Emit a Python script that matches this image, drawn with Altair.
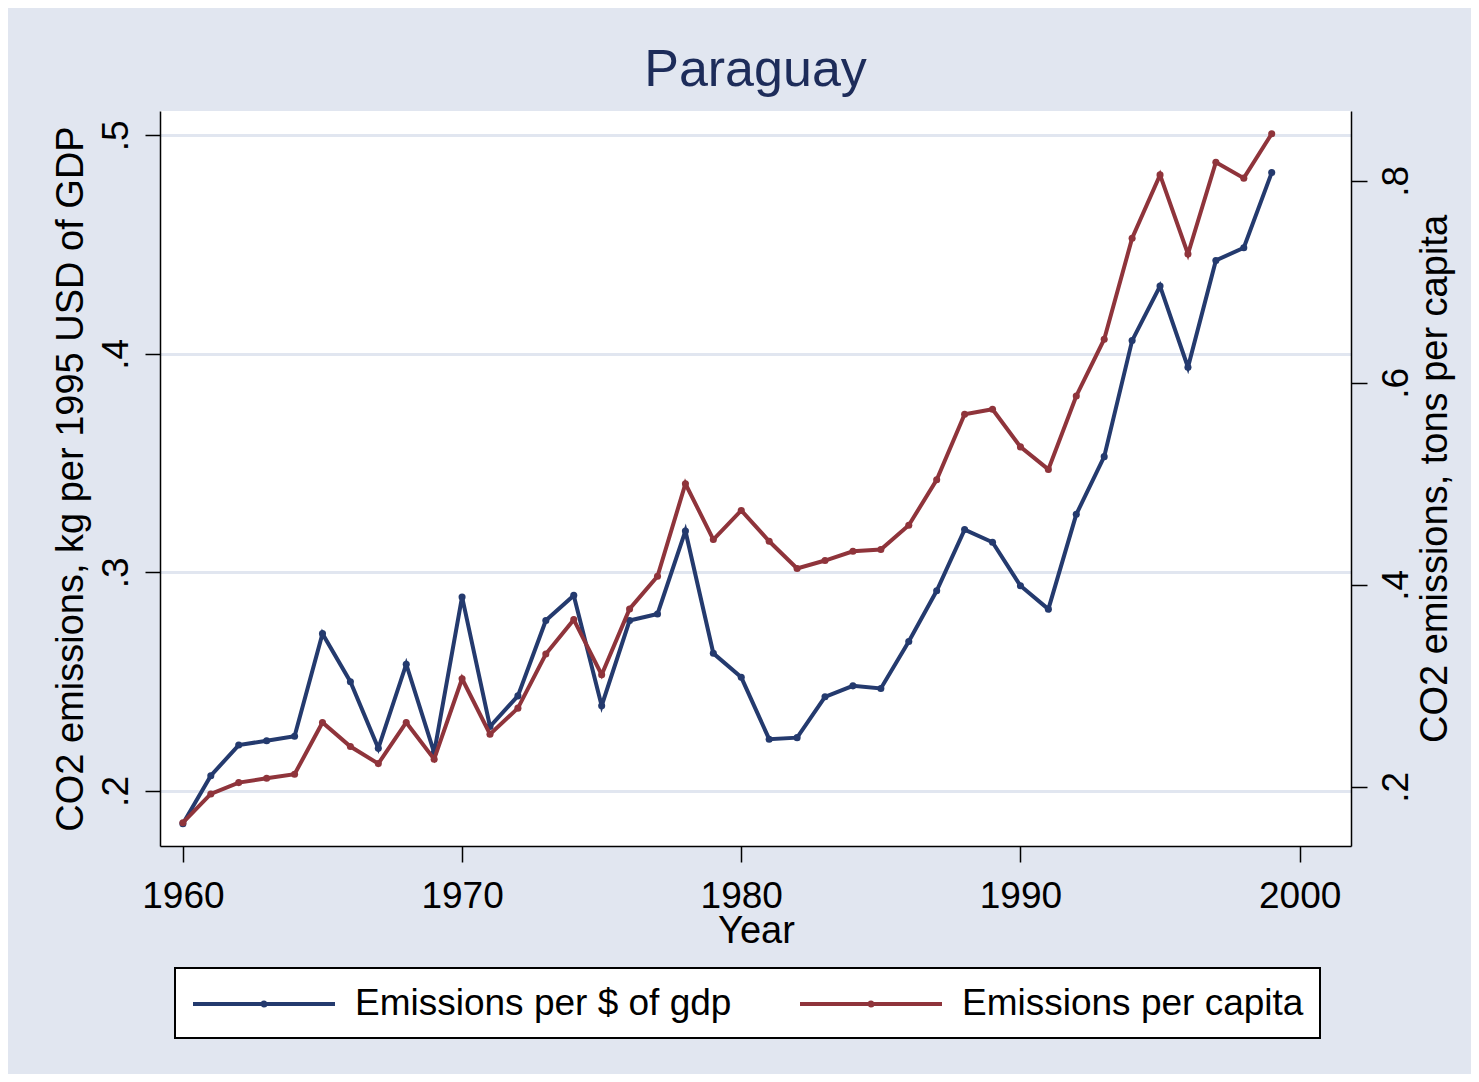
import altair as alt
import pandas as pd

years = list(range(1960, 2000))

per_gdp = [0.185, 0.207, 0.221, 0.223, 0.225, 0.272, 0.250, 0.2195, 0.258, 0.2175,
           0.2888, 0.2295, 0.2435, 0.278, 0.2895, 0.239, 0.278, 0.281, 0.319, 0.263,
           0.252, 0.2237, 0.2244, 0.2431, 0.2481, 0.2469, 0.2684, 0.2916, 0.3196, 0.3138,
           0.2939, 0.2832, 0.3266, 0.353, 0.4061, 0.4311, 0.3939, 0.4428, 0.4486, 0.483]

per_capita = [0.1646, 0.1931, 0.2043, 0.2086, 0.2126, 0.2638, 0.240, 0.2231, 0.2638, 0.2275,
              0.3071, 0.2522, 0.278, 0.3316, 0.3656, 0.3111, 0.3762, 0.4085, 0.5001, 0.4449,
              0.4737, 0.4432, 0.4162, 0.4241, 0.4333, 0.435, 0.459, 0.504, 0.5689, 0.5738,
              0.5366, 0.5143, 0.587, 0.6432, 0.7431, 0.8058, 0.7275, 0.8184, 0.8026, 0.8465]

series_names = ["Emissions per $ of gdp", "Emissions per capita"]
series_colors = ["#243a6e", "#8f343b"]

x_ticks = [1960, 1970, 1980, 1990, 2000]
left_ticks = [0.2, 0.3, 0.4, 0.5]
right_ticks = [0.2, 0.4, 0.6, 0.8]

df = pd.DataFrame({"Year": years, "gdp": per_gdp, "capita": per_capita})
df["s_gdp"] = series_names[0]
df["s_cap"] = series_names[1]

FONT = "Liberation Sans"
W, H = 1191, 735

color_scale = alt.Scale(domain=series_names, range=series_colors)
xenc = alt.X("Year:Q", scale=alt.Scale(domain=[1959.18, 2001.84], nice=False, zero=False),
             axis=alt.Axis(values=x_ticks, format="d", tickSize=16, labelPadding=45,
                           labelBaseline="alphabetic", labelFontSize=37, grid=False,
                           title="Year", titleFontSize=38, titleBaseline="alphabetic",
                           titleX=596, titleY=96, titleFontWeight="normal"))

left_axis = alt.Axis(values=left_ticks, tickSize=15, labelAngle=270, labelAlign="center",
                     labelBaseline="alphabetic", labelPadding=18, labelFontSize=37,
                     labelExpr="replace(format(datum.value,'.1f'),'0.','.')",
                     grid=True, gridColor="#e1e6f0", gridWidth=3,
                     title="CO2 emissions, kg per 1995 USD of GDP", titleFontSize=38,
                     titleAngle=270, titleAlign="center", titleBaseline="alphabetic",
                     titleX=-78, titleY=367.5, titleFontWeight="normal")

right_axis = alt.Axis(orient="right", values=right_ticks, tickSize=16, labelAngle=270,
                      labelAlign="center", labelBaseline="alphabetic", labelPadding=40,
                      labelFontSize=37,
                      labelExpr="replace(format(datum.value,'.1f'),'0.','.')",
                      grid=False,
                      title="CO2 emissions, tons per capita", titleFontSize=38,
                      titleAngle=270, titleAlign="center", titleBaseline="alphabetic",
                      titleX=95, titleY=367.5, titleFontWeight="normal")

# legend symbol: long line (142px) with a small dot in the middle, drawn in units of r = 18px
legend_symbol = "M-1,0H6.889M2.861,0A0.083,0.083,0,1,0,3.028,0A0.083,0.083,0,1,0,2.861,0"

legend = alt.Legend(orient="none", legendX=15, legendY=857, direction="horizontal",
                    title=None, fillColor="white", strokeColor="black", padding=16,
                    labelFontSize=37, labelFont=FONT, labelLimit=0, labelOffset=124,
                    symbolType=legend_symbol, symbolSize=1296, symbolStrokeWidth=4,
                    columnPadding=60)

base = alt.Chart(df)

line_gdp = base.mark_line(strokeWidth=4).encode(
    x=xenc,
    y=alt.Y("gdp:Q", scale=alt.Scale(domain=[0.17481, 0.51118], nice=False, zero=False),
            axis=left_axis),
    color=alt.Color("s_gdp:N", scale=color_scale, legend=legend),
)
pts_gdp = base.mark_circle(size=50, opacity=1).encode(
    x="Year:Q", y="gdp:Q",
    color=alt.Color("s_gdp:N", scale=color_scale, legend=None),
)
line_cap = base.mark_line(strokeWidth=4).encode(
    x="Year:Q",
    y=alt.Y("capita:Q", scale=alt.Scale(domain=[0.14155, 0.86905], nice=False, zero=False),
            axis=right_axis),
    color=alt.Color("s_cap:N", scale=color_scale, legend=legend),
)
pts_cap = base.mark_circle(size=50, opacity=1).encode(
    x="Year:Q", y="capita:Q",
    color=alt.Color("s_cap:N", scale=color_scale, legend=None),
)

left_layer = alt.layer(line_gdp, pts_gdp)
right_layer = alt.layer(line_cap, pts_cap)

chart = alt.layer(left_layer, right_layer).resolve_scale(y="independent").properties(
    width=W, height=H,
    autosize=alt.AutoSizeParams(type="none"),
    padding={"left": 152, "top": 103, "right": 120, "bottom": 228},
    background="#e1e6f0",
    title=alt.TitleParams("Paraguay", fontSize=52, color="#1d2c5a", font=FONT,
                          fontWeight="normal", anchor="middle", baseline="alphabetic",
                          offset=23, dy=50),
).configure_view(
    fill="white", stroke=None
).configure_axis(
    domainColor="black", domainWidth=1.5, tickColor="black", tickWidth=1.5,
    labelFont=FONT, titleFont=FONT, labelColor="black", titleColor="black",
).configure_legend(
    strokeWidth=2
)

chart.save("out.html", embed_options={"renderer": "svg", "actions": False})
